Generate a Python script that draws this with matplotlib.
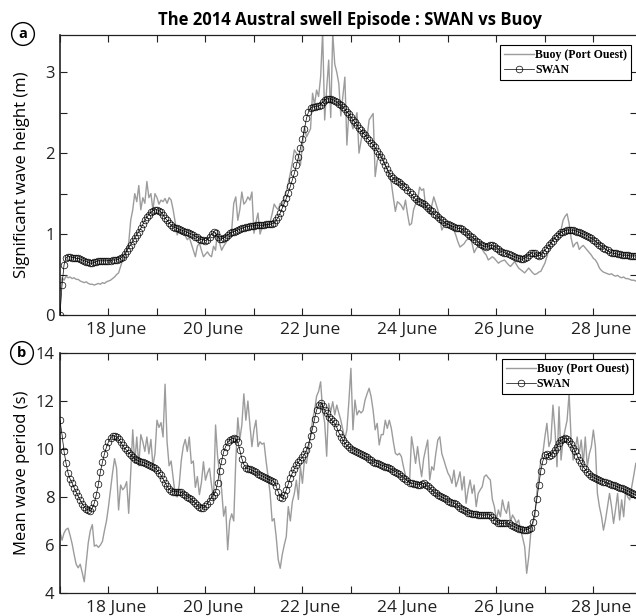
import numpy as np
import matplotlib
matplotlib.use('Agg')
import matplotlib.pyplot as plt
import matplotlib.transforms as mtransforms

# hourly series, 17 June 00:00 onwards (one row per day)
hs_buoy = (
    [0.30, 0.46, 0.43, 0.48, 0.46, 0.47, 0.45, 0.46, 0.44, 0.44, 0.42, 0.41, 0.40, 0.41, 0.39, 0.38, 0.38, 0.37, 0.38, 0.39, 0.38, 0.40, 0.39, 0.41] +
    [0.42, 0.43, 0.45, 0.47, 0.50, 0.52, 0.60, 0.68, 0.70, 0.80, 0.89, 1.17, 1.30, 1.50, 1.40, 1.60, 1.30, 1.45, 1.38, 1.65, 1.45, 1.50, 1.30, 1.50] +
    [1.45, 1.37, 1.42, 1.40, 1.44, 1.38, 1.45, 1.42, 1.30, 1.15, 0.99, 1.05, 1.00, 1.02, 0.98, 0.93, 0.96, 0.88, 0.80, 0.72, 0.85, 0.89, 0.80, 0.72] +
    [0.75, 0.78, 0.74, 0.72, 0.85, 0.80, 1.05, 0.89, 0.80, 0.85, 0.89, 0.93, 0.97, 1.05, 1.38, 1.46, 1.17, 1.30, 1.52, 1.37, 1.40, 1.46, 1.42, 1.52] +
    [1.01, 1.15, 1.26, 1.00, 1.08, 1.13, 1.10, 1.12, 1.15, 1.25, 1.37, 1.33, 1.30, 1.38, 1.35, 1.46, 1.52, 1.63, 1.75, 1.88, 2.04, 2.00, 1.97, 1.85] +
    [2.10, 2.33, 2.20, 2.25, 2.30, 2.74, 2.60, 2.78, 2.70, 2.94, 3.50, 2.41, 2.80, 3.15, 2.44, 3.48, 3.10, 3.00, 2.86, 2.46, 2.70, 2.94, 2.10, 2.52] +
    [2.40, 2.30, 2.40, 2.50, 2.00, 2.15, 2.30, 2.25, 2.20, 2.41, 2.45, 2.49, 1.71, 1.90, 2.00, 1.97, 1.92, 1.85, 1.80, 1.72, 1.63, 1.45, 1.28, 1.40] +
    [1.38, 1.35, 1.30, 1.42, 1.25, 1.11, 1.13, 1.30, 1.37, 1.42, 1.58, 1.54, 1.56, 1.33, 1.30, 1.25, 1.35, 1.46, 1.38, 1.30, 1.18, 1.05, 1.10, 1.12] +
    [1.13, 1.10, 1.09, 1.05, 0.98, 0.90, 0.84, 0.86, 0.88, 0.92, 0.94, 0.96, 0.88, 0.77, 0.82, 0.85, 0.89, 0.81, 0.77, 0.74, 0.68, 0.70, 0.72, 0.70] +
    [0.67, 0.64, 0.66, 0.67, 0.68, 0.65, 0.62, 0.60, 0.63, 0.66, 0.62, 0.58, 0.56, 0.54, 0.52, 0.55, 0.58, 0.55, 0.52, 0.50, 0.51, 0.53, 0.54, 0.59] +
    [0.64, 0.72, 0.81, 0.88, 0.96, 0.94, 0.92, 1.00, 1.05, 1.17, 1.22, 1.25, 1.13, 0.95, 0.84, 0.88, 0.90, 0.81, 0.84, 0.86, 0.83, 0.80, 0.77, 0.74] +
    [0.70, 0.68, 0.64, 0.58, 0.55, 0.53, 0.52, 0.51, 0.50, 0.51, 0.49, 0.48, 0.49, 0.47, 0.46, 0.47, 0.45, 0.45, 0.44, 0.43, 0.43, 0.42]
)

hs_swan = (
    [0.00, 0.37, 0.62, 0.71, 0.72, 0.72, 0.71, 0.71, 0.70, 0.70, 0.69, 0.68, 0.67, 0.66, 0.65, 0.64, 0.64, 0.65, 0.66, 0.67, 0.67, 0.67, 0.67, 0.67] +
    [0.67, 0.67, 0.68, 0.68, 0.68, 0.69, 0.70, 0.72, 0.75, 0.79, 0.83, 0.87, 0.91, 0.95, 0.99, 1.03, 1.07, 1.12, 1.17, 1.21, 1.24, 1.27, 1.29, 1.30] +
    [1.30, 1.29, 1.27, 1.24, 1.20, 1.17, 1.14, 1.11, 1.09, 1.08, 1.07, 1.06, 1.05, 1.04, 1.03, 1.02, 1.01, 1.00, 0.99, 0.97, 0.96, 0.94, 0.93, 0.93] +
    [0.92, 0.93, 0.96, 1.00, 1.02, 1.01, 0.97, 0.94, 0.94, 0.95, 0.97, 0.99, 1.01, 1.02, 1.03, 1.04, 1.05, 1.06, 1.07, 1.08, 1.09, 1.09, 1.10, 1.10] +
    [1.10, 1.11, 1.11, 1.11, 1.11, 1.11, 1.12, 1.12, 1.12, 1.13, 1.14, 1.17, 1.21, 1.26, 1.32, 1.38, 1.44, 1.51, 1.59, 1.67, 1.75, 1.85, 1.95, 2.06] +
    [2.17, 2.30, 2.43, 2.51, 2.56, 2.57, 2.57, 2.58, 2.58, 2.60, 2.63, 2.66, 2.67, 2.67, 2.67, 2.66, 2.65, 2.63, 2.61, 2.59, 2.57, 2.54, 2.51, 2.48] +
    [2.45, 2.41, 2.38, 2.35, 2.31, 2.28, 2.25, 2.22, 2.19, 2.16, 2.13, 2.10, 2.07, 2.03, 1.99, 1.95, 1.90, 1.85, 1.80, 1.75, 1.72, 1.69, 1.67, 1.66] +
    [1.64, 1.62, 1.60, 1.58, 1.55, 1.52, 1.49, 1.46, 1.43, 1.41, 1.40, 1.39, 1.37, 1.35, 1.32, 1.30, 1.28, 1.25, 1.23, 1.21, 1.19, 1.17, 1.15, 1.13] +
    [1.12, 1.11, 1.10, 1.09, 1.08, 1.07, 1.07, 1.06, 1.04, 1.02, 1.00, 0.98, 0.96, 0.94, 0.92, 0.90, 0.88, 0.86, 0.85, 0.84, 0.85, 0.86, 0.86, 0.85] +
    [0.83, 0.81, 0.79, 0.78, 0.77, 0.76, 0.75, 0.74, 0.73, 0.72, 0.71, 0.70, 0.69, 0.69, 0.70, 0.72, 0.74, 0.76, 0.77, 0.76, 0.74, 0.73, 0.74, 0.77] +
    [0.80, 0.83, 0.86, 0.89, 0.92, 0.95, 0.98, 1.00, 1.02, 1.03, 1.04, 1.05, 1.05, 1.05, 1.05, 1.04, 1.03, 1.02, 1.01, 1.00, 0.99, 0.98, 0.96, 0.95] +
    [0.93, 0.91, 0.89, 0.87, 0.85, 0.83, 0.81, 0.80, 0.78, 0.77, 0.76, 0.76, 0.75, 0.75, 0.74, 0.74, 0.74, 0.74, 0.73, 0.73, 0.73, 0.73]
)

tm_buoy = (
    [6.55, 6.2, 6.5, 6.65, 6.7, 6.4, 6.05, 5.6, 5.2, 5.05, 5.2, 4.85, 4.47, 5.3, 6.1, 6.6, 6.85, 5.95, 6.0, 5.9, 6.0, 6.15, 6.6, 7.0] +
    [7.6, 8.3, 9.0, 9.6, 9.2, 7.46, 8.5, 8.3, 8.4, 8.64, 7.32, 9.0, 10.8, 9.4, 10.5, 9.3, 10.6, 10.3, 9.9, 10.5, 9.8, 10.4, 9.3, 9.8] +
    [11.2, 10.9, 11.1, 10.5, 12.7, 10.3, 9.3, 9.5, 8.8, 8.1, 8.0, 8.5, 9.5, 10.1, 10.4, 9.9, 10.5, 9.4, 9.5, 8.4, 8.85, 8.1, 8.6, 9.47] +
    [8.7, 9.0, 9.2, 8.5, 7.88, 11.0, 9.7, 9.0, 8.3, 7.2, 7.6, 5.8, 7.0, 7.3, 7.0, 9.5, 11.3, 10.4, 11.0, 12.3, 11.2, 12.0, 11.0, 10.1] +
    [10.8, 11.2, 10.1, 10.3, 10.2, 10.25, 9.5, 8.85, 8.15, 7.0, 7.1, 6.35, 5.4, 5.03, 5.6, 6.0, 6.35, 7.6, 7.0, 7.8, 8.15, 8.7, 7.9, 9.26] +
    [8.57, 9.54, 9.4, 10.0, 10.5, 11.2, 11.6, 12.2, 12.4, 12.8, 11.6, 11.1, 9.7, 11.9, 11.55, 11.97, 11.42, 11.83, 11.5, 11.2, 10.8, 10.4, 10.8, 12.0] +
    [13.36, 10.8, 12.04, 11.42, 11.6, 11.5, 11.6, 12.04, 12.3, 12.53, 12.18, 11.6, 10.8, 11.07, 10.17, 10.6, 10.6, 11.2, 10.86, 11.2, 10.86, 10.3, 9.82, 9.75] +
    [9.82, 9.68, 9.26, 8.9, 8.71, 8.57, 10.51, 10.0, 9.4, 10.1, 9.4, 8.85, 9.6, 10.0, 10.375, 8.71, 9.26, 9.12, 9.8, 10.375, 10.51, 9.8, 9.54, 9.26] +
    [9.0, 8.85, 8.57, 9.12, 8.43, 8.7, 9.05, 8.29, 8.85, 7.74, 8.3, 8.71, 8.15, 8.5, 7.6, 8.15, 8.3, 8.43, 8.85, 8.92, 8.8, 8.71, 7.9, 7.6] +
    [7.04, 7.46, 7.18, 7.88, 7.5, 7.32, 7.8, 6.97, 7.25, 7.1, 6.9, 7.04, 6.62, 6.3, 5.93, 4.82, 5.5, 6.48, 6.9, 7.18, 8.15, 8.85, 9.54, 9.82] +
    [10.5, 11.07, 10.1, 10.375, 11.83, 10.79, 9.26, 11.76, 9.54, 10.375, 10.8, 11.2, 12.32, 10.375, 9.54, 10.0, 10.5, 9.82, 10.375, 9.4, 10.5, 9.26, 9.8, 10.1] +
    [10.79, 10.1, 8.15, 7.6, 7.2, 6.62, 7.04, 7.6, 8.15, 7.6, 6.9, 7.5, 8.15, 7.04, 7.88, 7.18, 8.29, 8.0, 7.88, 8.43, 8.9, 9.4]
)

tm_swan = (
    [11.2, 10.6, 9.9, 9.4, 9.0, 8.75, 8.58, 8.38, 8.2, 8.03, 7.86, 7.72, 7.6, 7.5, 7.46, 7.43, 7.55, 7.75, 8.1, 8.53, 9.05, 9.45, 9.8, 10.08] +
    [10.3, 10.45, 10.55, 10.55, 10.5, 10.42, 10.3, 10.15, 10.03, 9.95, 9.85, 9.75, 9.68, 9.6, 9.54, 9.5, 9.47, 9.44, 9.41, 9.38, 9.34, 9.31, 9.26, 9.2] +
    [9.12, 9.02, 8.9, 8.75, 8.6, 8.45, 8.33, 8.26, 8.22, 8.22, 8.22, 8.21, 8.19, 8.14, 8.08, 8.02, 7.97, 7.9, 7.82, 7.74, 7.66, 7.58, 7.54, 7.55] +
    [7.62, 7.72, 7.85, 7.98, 8.1, 8.22, 8.6, 9.1, 9.5, 9.88, 10.1, 10.28, 10.38, 10.43, 10.44, 10.4, 10.3, 9.95, 9.6, 9.35, 9.22, 9.18, 9.15, 9.12] +
    [9.08, 9.03, 8.97, 8.92, 8.88, 8.84, 8.79, 8.74, 8.71, 8.68, 8.64, 8.45, 8.22, 8.02, 7.95, 8.1, 8.29, 8.55, 8.8, 9.0, 9.18, 9.33, 9.45, 9.56] +
    [9.65, 9.78, 9.95, 10.18, 10.55, 10.85, 11.25, 11.62, 11.85, 11.93, 11.8, 11.62, 11.48, 11.35, 11.25, 11.15, 11.07, 10.9, 10.68, 10.52, 10.38, 10.25, 10.15, 10.08] +
    [10.02, 9.97, 9.93, 9.88, 9.84, 9.8, 9.75, 9.7, 9.65, 9.59, 9.53, 9.47, 9.43, 9.4, 9.37, 9.33, 9.3, 9.27, 9.24, 9.2, 9.15, 9.1, 9.06, 9.0] +
    [8.95, 8.88, 8.8, 8.73, 8.67, 8.6, 8.57, 8.55, 8.54, 8.52, 8.5, 8.55, 8.57, 8.52, 8.45, 8.38, 8.3, 8.22, 8.16, 8.1, 8.05, 8.0, 7.95, 7.9] +
    [7.85, 7.8, 7.76, 7.74, 7.7, 7.62, 7.55, 7.5, 7.45, 7.4, 7.35, 7.32, 7.3, 7.29, 7.28, 7.27, 7.26, 7.25, 7.25, 7.26, 7.27, 7.24, 7.15, 7.05] +
    [6.98, 6.92, 6.9, 6.9, 6.91, 6.92, 6.9, 6.85, 6.8, 6.76, 6.72, 6.68, 6.65, 6.62, 6.62, 6.64, 6.67, 6.72, 6.95, 7.35, 7.9, 8.5, 9.1, 9.5] +
    [9.75, 9.78, 9.72, 9.75, 9.85, 9.96, 10.1, 10.25, 10.37, 10.42, 10.45, 10.42, 10.33, 10.2, 10.05, 9.9, 9.72, 9.55, 9.4, 9.26, 9.15, 9.05, 8.95, 8.88] +
    [8.83, 8.78, 8.74, 8.7, 8.67, 8.64, 8.61, 8.58, 8.55, 8.52, 8.48, 8.45, 8.42, 8.39, 8.36, 8.33, 8.3, 8.26, 8.22, 8.17, 8.12, 8.08]
)

start_day = 17
day_ticks = list(range(17, 29))
day_labels = ['%d June' % d if d % 2 == 0 else '' for d in day_ticks]

plt.rcParams['font.family'] = 'Open Sans'

t = start_day + np.arange(len(hs_swan)) / 24.0

fig = plt.figure(figsize=(6.36, 6.16), dpi=100)
ax1 = fig.add_axes([60 / 636, 301 / 616, 577 / 636, 280 / 616])
ax2 = fig.add_axes([60 / 636, 23 / 616, 577 / 636, 240 / 616])

buoy_style = dict(color='#9c9c9c', lw=1.0, zorder=2)
swan_style = dict(color='k', lw=0.5, marker='o', ms=4.8, mfc='none',
                  mec='k', mew=0.5, zorder=3)

ax1.plot(t, hs_buoy, label='Buoy (Port Ouest)', **buoy_style)
ax1.plot(t, hs_swan, label='SWAN', **swan_style)
ax2.plot(t, tm_buoy, label='Buoy (Port Ouest)', **buoy_style)
ax2.plot(t, tm_swan, label='SWAN', **swan_style)

ax1.set_ylim(0, 3.46)
ax1.set_yticks(np.arange(0, 3.01, 0.5))
ax1.set_yticklabels(['0', '', '1', '', '2', '', '3'])
ax1.set_ylabel('Significant wave height (m)', fontsize=12)

ax2.set_ylim(4, 14)
ax2.set_yticks(range(4, 15, 2))
ax2.set_ylabel('Mean wave period (s)', fontsize=12)

shift = mtransforms.ScaledTranslation(8 / 100, 0, fig.dpi_scale_trans)
for ax in (ax1, ax2):
    ax.set_xlim(17.0, 28.9)
    ax.set_xticks(day_ticks)
    ax.set_xticklabels(day_labels)
    ax.tick_params(direction='in', length=5, width=0.8, labelsize=12,
                   top=True, right=True, pad=4, colors='#222222')
    ax.tick_params(axis='x', labelsize=12.5, pad=5)
    for lab in ax.get_xticklabels():
        lab.set_transform(lab.get_transform() + shift)
    for sp in ax.spines.values():
        sp.set_linewidth(0.9)
        sp.set_color('#222222')
    ax.spines['left'].set_linewidth(1.2)
    ax.yaxis.set_label_coords(-0.052, 0.5)

leg_font = dict(family='Liberation Serif', weight='bold', size=8.5)
ax1.legend(loc='upper right', bbox_to_anchor=(0.99, 0.964), borderaxespad=0,
           prop=leg_font, fancybox=False, edgecolor='k', framealpha=1,
           handlelength=2.5, handletextpad=0.1, labelspacing=0.25,
           borderpad=0.35).get_frame().set_linewidth(0.8)
ax2.legend(loc='upper right', bbox_to_anchor=(0.993, 0.975), borderaxespad=0,
           prop=leg_font, fancybox=False, edgecolor='k', framealpha=1,
           handlelength=2.5, handletextpad=0.1, labelspacing=0.25,
           borderpad=0.35).get_frame().set_linewidth(0.8)

fig.text(350 / 636, 1 - 25 / 616, 'The 2014 Austral swell Episode : SWAN vs Buoy',
         ha='center', va='baseline', fontsize=12, fontweight='bold')

circle = dict(boxstyle='circle,pad=0.3', fc='white', ec='k', lw=1.0)
fig.text(23 / 636, 1 - 34 / 616, 'a', ha='center', va='center', fontsize=10.5,
         fontweight='bold', bbox=circle)
fig.text(22 / 636, 1 - 353 / 616, 'b', ha='center', va='center', fontsize=10.5,
         fontweight='bold', bbox=circle)

fig.savefig('out.png', dpi=100)
